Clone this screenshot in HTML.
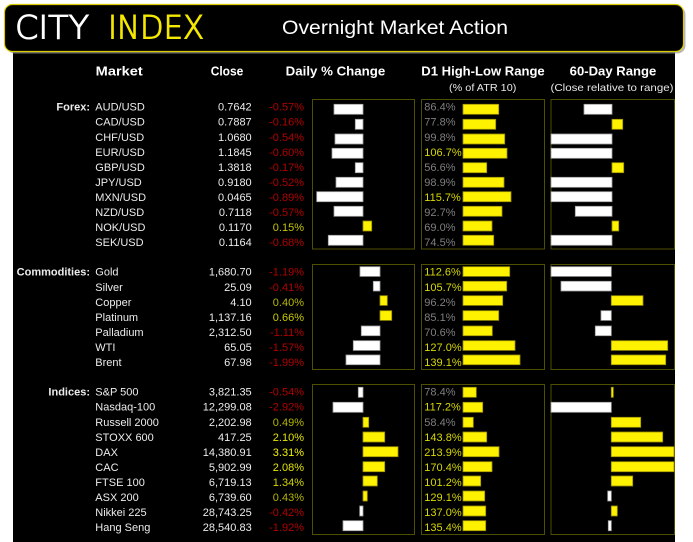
<!DOCTYPE html>
<html><head><meta charset="utf-8"><style>
html,body{margin:0;padding:0;background:#fff;}
svg{display:block;}
text{font-family:"Liberation Sans",sans-serif;}
.logo{font-family:"DejaVu Sans ExtraLight","DejaVu Sans","Liberation Sans",sans-serif;font-weight:200;stroke-width:1.1px;}
.t{font-size:11px;fill:#ececec;}
.e{text-anchor:end;}
.b{font-weight:bold;}
.h{font-size:12.5px;font-weight:bold;fill:#fff;text-anchor:middle;}
.s{font-size:10.5px;fill:#e8e8e8;text-anchor:middle;}
.R{fill:#b00000;}
.g{fill:#7f7f7f;}
.y{fill:#d8d800;}
.bx{fill:none;stroke:#4f4f00;stroke-width:1;}
.w{fill:#fff;stroke:#a0a0a0;stroke-width:0.8;}
.k{fill:#fff200;stroke:#9a9000;stroke-width:0.8;}
</style></head><body>
<svg width="693" height="542" viewBox="0 0 693 542" xmlns="http://www.w3.org/2000/svg">
<rect x="0" y="0" width="693" height="542" fill="#fff"/>
<rect x="13" y="48" width="662" height="494" fill="#000"/>
<!-- header -->
<rect x="6.5" y="6.5" width="679" height="47" rx="8" fill="#9a9a9a" opacity="0.7"/>
<rect x="4.5" y="4.5" width="679" height="47" rx="8" fill="#000" stroke="#d8cc00" stroke-width="1.2"/>
<text class="logo" x="15" y="38.3" font-size="32" fill="#fff" stroke="#fff" textLength="74" lengthAdjust="spacingAndGlyphs">CITY</text>
<text class="logo" x="108" y="38.3" font-size="32" fill="#f5e800" stroke="#f5e800" textLength="96" lengthAdjust="spacingAndGlyphs">INDEX</text>
<text x="282" y="34" font-size="19.5" fill="#fff" textLength="226" lengthAdjust="spacingAndGlyphs">Overnight Market Action</text>
<!-- column headers -->
<text class="h" x="119.2" y="75.7" textLength="47" lengthAdjust="spacingAndGlyphs">Market</text>
<text class="h" x="227" y="75.7" textLength="32.6" lengthAdjust="spacingAndGlyphs">Close</text>
<text class="h" x="335.5" y="75.7" textLength="99.6" lengthAdjust="spacingAndGlyphs">Daily % Change</text>
<text class="h" x="483" y="75.7" textLength="123.4" lengthAdjust="spacingAndGlyphs">D1 High-Low Range</text>
<text class="h" x="613" y="75.7" textLength="86.6" lengthAdjust="spacingAndGlyphs">60-Day Range</text>
<text class="s" x="482.7" y="91" textLength="67.3" lengthAdjust="spacingAndGlyphs">(% of ATR 10)</text>
<text class="s" x="612" y="91" textLength="123" lengthAdjust="spacingAndGlyphs">(Close relative to range)</text>

<!-- boxes -->
<rect class="bx" x="312.5" y="99.5" width="102" height="149.5"/>
<rect class="bx" x="421.5" y="99.5" width="123" height="149.5"/>
<rect class="bx" x="551" y="99.5" width="123.5" height="149.5"/>
<rect class="bx" x="312.5" y="264.5" width="102" height="105"/>
<rect class="bx" x="421.5" y="264.5" width="123" height="105"/>
<rect class="bx" x="551" y="264.5" width="123.5" height="105"/>
<rect class="bx" x="312.5" y="384.5" width="102" height="150"/>
<rect class="bx" x="421.5" y="384.5" width="123" height="150"/>
<rect class="bx" x="551" y="384.5" width="123.5" height="150"/>

<!-- section labels -->
<text class="t b e" x="90" y="110.7">Forex:</text>
<text class="t b e" x="90" y="275.7">Commodities:</text>
<text class="t b e" x="90" y="395.7">Indices:</text>

<!-- FOREX text -->
<g class="t">
<text x="95.3" y="110.7">AUD/USD</text>
<text x="95.3" y="125.7">CAD/USD</text>
<text x="95.3" y="140.8">CHF/USD</text>
<text x="95.3" y="155.8">EUR/USD</text>
<text x="95.3" y="170.8">GBP/USD</text>
<text x="95.3" y="185.9">JPY/USD</text>
<text x="95.3" y="200.9">MXN/USD</text>
<text x="95.3" y="215.9">NZD/USD</text>
<text x="95.3" y="230.9">NOK/USD</text>
<text x="95.3" y="246">SEK/USD</text>
</g>
<g class="t e">
<text x="251.7" y="110.7">0.7642</text>
<text x="251.7" y="125.7">0.7887</text>
<text x="251.7" y="140.8">1.0680</text>
<text x="251.7" y="155.8">1.1845</text>
<text x="251.7" y="170.8">1.3818</text>
<text x="251.7" y="185.9">0.9180</text>
<text x="251.7" y="200.9">0.0465</text>
<text x="251.7" y="215.9">0.7118</text>
<text x="251.7" y="230.9">0.1170</text>
<text x="251.7" y="246">0.1164</text>
</g>
<g class="t e">
<text class="R" x="304" y="110.7">-0.57%</text>
<text class="R" x="304" y="125.7">-0.16%</text>
<text class="R" x="304" y="140.8">-0.54%</text>
<text class="R" x="304" y="155.8">-0.60%</text>
<text class="R" x="304" y="170.8">-0.17%</text>
<text class="R" x="304" y="185.9">-0.52%</text>
<text class="R" x="304" y="200.9">-0.89%</text>
<text class="R" x="304" y="215.9">-0.57%</text>
<text x="304" y="230.9" fill="#c4c400">0.15%</text>
<text class="R" x="304" y="246">-0.68%</text>
</g>
<g class="t">
<text class="g" x="424.3" y="110.7">86.4%</text>
<text class="g" x="424.3" y="125.7">77.8%</text>
<text class="g" x="424.3" y="140.8">99.8%</text>
<text class="y" x="424.3" y="155.8">106.7%</text>
<text class="g" x="424.3" y="170.8">56.6%</text>
<text class="g" x="424.3" y="185.9">98.9%</text>
<text class="y" x="424.3" y="200.9">115.7%</text>
<text class="g" x="424.3" y="215.9">92.7%</text>
<text class="g" x="424.3" y="230.9">69.0%</text>
<text class="g" x="424.3" y="246">74.5%</text>
</g>
<!-- forex daily bars -->
<rect class="w" x="334" y="104.3" width="29" height="10"/>
<rect class="w" x="355.3" y="119.3" width="7.7" height="10"/>
<rect class="w" x="335" y="134" width="28" height="10"/>
<rect class="w" x="332" y="148.3" width="31" height="10"/>
<rect class="w" x="355.3" y="162.7" width="7.7" height="10"/>
<rect class="w" x="336" y="177.3" width="27" height="10"/>
<rect class="w" x="316.7" y="191.7" width="46.3" height="10"/>
<rect class="w" x="334" y="206.3" width="29" height="10"/>
<rect class="k" x="363" y="221" width="8.7" height="10"/>
<rect class="w" x="328.3" y="235.3" width="34.7" height="10"/>
<!-- forex D1 bars -->
<rect class="k" x="463" y="104.3" width="35.7" height="10"/>
<rect class="k" x="463" y="119.3" width="32.7" height="10"/>
<rect class="k" x="463" y="134" width="41.7" height="10"/>
<rect class="k" x="463" y="148.3" width="44" height="10"/>
<rect class="k" x="463" y="162.7" width="23.7" height="10"/>
<rect class="k" x="463" y="177.3" width="41" height="10"/>
<rect class="k" x="463" y="191.7" width="48" height="10"/>
<rect class="k" x="463" y="206.3" width="39" height="10"/>
<rect class="k" x="463" y="221" width="29" height="10"/>
<rect class="k" x="463" y="235.3" width="30.7" height="10"/>
<!-- forex 60d bars -->
<rect class="w" x="584" y="104.3" width="28" height="10"/>
<rect class="k" x="612" y="119.3" width="10.7" height="10"/>
<rect class="w" x="551" y="134" width="61" height="10"/>
<rect class="w" x="551" y="148.3" width="61" height="10"/>
<rect class="k" x="612" y="162.7" width="11.7" height="10"/>
<rect class="w" x="551" y="177.3" width="61" height="10"/>
<rect class="w" x="551" y="191.7" width="61" height="10"/>
<rect class="w" x="575.3" y="206.3" width="36.7" height="10"/>
<rect class="k" x="612" y="221" width="6.7" height="10"/>
<rect class="w" x="551" y="235.3" width="61" height="10"/>

<!-- COMMODITIES text -->
<g class="t">
<text x="95.3" y="275.7">Gold</text>
<text x="95.3" y="290.8">Silver</text>
<text x="95.3" y="305.8">Copper</text>
<text x="95.3" y="320.9">Platinum</text>
<text x="95.3" y="335.9">Palladium</text>
<text x="95.3" y="350.9">WTI</text>
<text x="95.3" y="366">Brent</text>
</g>
<g class="t e">
<text x="251.7" y="275.7">1,680.70</text>
<text x="251.7" y="290.8">25.09</text>
<text x="251.7" y="305.8">4.10</text>
<text x="251.7" y="320.9">1,137.16</text>
<text x="251.7" y="335.9">2,312.50</text>
<text x="251.7" y="350.9">65.05</text>
<text x="251.7" y="366">67.98</text>
</g>
<g class="t e">
<text class="R" x="304" y="275.7">-1.19%</text>
<text class="R" x="304" y="290.8">-0.41%</text>
<text x="304" y="305.8" fill="#b8b800">0.40%</text>
<text x="304" y="320.9" fill="#c8c800">0.66%</text>
<text class="R" x="304" y="335.9">-1.11%</text>
<text class="R" x="304" y="350.9">-1.57%</text>
<text class="R" x="304" y="366">-1.99%</text>
</g>
<g class="t">
<text class="y" x="424.3" y="275.7">112.6%</text>
<text class="y" x="424.3" y="290.8">105.7%</text>
<text class="g" x="424.3" y="305.8">96.2%</text>
<text class="g" x="424.3" y="320.9">85.1%</text>
<text class="g" x="424.3" y="335.9">70.6%</text>
<text class="y" x="424.3" y="350.9">127.0%</text>
<text class="y" x="424.3" y="366">139.1%</text>
</g>
<rect class="w" x="360" y="266.7" width="20" height="9.7"/>
<rect class="w" x="373.3" y="281.3" width="6.7" height="9.7"/>
<rect class="k" x="380" y="295.7" width="7.3" height="9.7"/>
<rect class="k" x="380" y="310.7" width="11.7" height="9.7"/>
<rect class="w" x="361.3" y="326" width="18.7" height="9.7"/>
<rect class="w" x="353.3" y="340.7" width="26.7" height="9.7"/>
<rect class="w" x="346" y="355" width="34" height="9.7"/>

<rect class="k" x="463" y="266.7" width="46.7" height="9.7"/>
<rect class="k" x="463" y="281.3" width="43.7" height="9.7"/>
<rect class="k" x="463" y="295.7" width="39.7" height="9.7"/>
<rect class="k" x="463" y="310.7" width="35.7" height="9.7"/>
<rect class="k" x="463" y="326" width="29.3" height="9.7"/>
<rect class="k" x="463" y="340.7" width="52" height="9.7"/>
<rect class="k" x="463" y="355" width="57" height="9.7"/>

<rect class="w" x="551" y="266.7" width="60.3" height="9.7"/>
<rect class="w" x="561" y="281.3" width="50.3" height="9.7"/>
<rect class="k" x="611.3" y="295.7" width="31.7" height="9.7"/>
<rect class="w" x="601" y="310.7" width="10.3" height="9.7"/>
<rect class="w" x="595.3" y="326" width="16" height="9.7"/>
<rect class="k" x="611.3" y="340.7" width="56.4" height="9.7"/>
<rect class="k" x="611.3" y="355" width="54.4" height="9.7"/>

<!-- INDICES text -->
<g class="t">
<text x="95.3" y="395.7">S&amp;P 500</text>
<text x="95.3" y="410.7">Nasdaq-100</text>
<text x="95.3" y="425.8">Russell 2000</text>
<text x="95.3" y="440.8">STOXX 600</text>
<text x="95.3" y="455.8">DAX</text>
<text x="95.3" y="470.9">CAC</text>
<text x="95.3" y="485.9">FTSE 100</text>
<text x="95.3" y="500.9">ASX 200</text>
<text x="95.3" y="515.9">Nikkei 225</text>
<text x="95.3" y="531">Hang Seng</text>
</g>
<g class="t e">
<text x="251.7" y="395.7">3,821.35</text>
<text x="251.7" y="410.7">12,299.08</text>
<text x="251.7" y="425.8">2,202.98</text>
<text x="251.7" y="440.8">417.25</text>
<text x="251.7" y="455.8">14,380.91</text>
<text x="251.7" y="470.9">5,902.99</text>
<text x="251.7" y="485.9">6,719.13</text>
<text x="251.7" y="500.9">6,739.60</text>
<text x="251.7" y="515.9">28,743.25</text>
<text x="251.7" y="531">28,540.83</text>
</g>
<g class="t e">
<text class="R" x="304" y="395.7">-0.54%</text>
<text class="R" x="304" y="410.7">-2.92%</text>
<text x="304" y="425.8" fill="#b4b400">0.49%</text>
<text x="304" y="440.8" fill="#e2e200">2.10%</text>
<text x="304" y="455.8" fill="#f2f200">3.31%</text>
<text x="304" y="470.9" fill="#e2e200">2.08%</text>
<text x="304" y="485.9" fill="#d4d400">1.34%</text>
<text x="304" y="500.9" fill="#b4b400">0.43%</text>
<text class="R" x="304" y="515.9">-0.42%</text>
<text class="R" x="304" y="531">-1.92%</text>
</g>
<g class="t">
<text class="g" x="424.3" y="395.7">78.4%</text>
<text class="y" x="424.3" y="410.7">117.2%</text>
<text class="g" x="424.3" y="425.8">58.4%</text>
<text class="y" x="424.3" y="440.8">143.8%</text>
<text class="y" x="424.3" y="455.8">213.9%</text>
<text class="y" x="424.3" y="470.9">170.4%</text>
<text class="y" x="424.3" y="485.9">101.2%</text>
<text class="y" x="424.3" y="500.9">129.1%</text>
<text class="y" x="424.3" y="515.9">137.0%</text>
<text class="y" x="424.3" y="531">135.4%</text>
</g>
<rect class="w" x="358.3" y="387.3" width="4.7" height="10"/>
<rect class="w" x="333" y="402.3" width="30" height="10"/>
<rect class="k" x="363" y="417.3" width="5.7" height="10"/>
<rect class="k" x="363" y="432" width="21.7" height="10"/>
<rect class="k" x="363" y="446.7" width="35" height="10"/>
<rect class="k" x="363" y="461.7" width="21.7" height="10"/>
<rect class="k" x="363" y="476" width="14.3" height="10"/>
<rect class="k" x="363" y="491" width="4.3" height="10"/>
<rect class="w" x="359.7" y="506" width="3.3" height="10"/>
<rect class="w" x="343" y="520.7" width="20" height="10"/>

<rect class="k" x="463" y="387.3" width="13.3" height="10"/>
<rect class="k" x="463" y="402.3" width="19.7" height="10"/>
<rect class="k" x="463" y="417.3" width="10.3" height="10"/>
<rect class="k" x="463" y="432" width="23.7" height="10"/>
<rect class="k" x="463" y="446.7" width="36" height="10"/>
<rect class="k" x="463" y="461.7" width="29" height="10"/>
<rect class="k" x="463" y="476" width="17.7" height="10"/>
<rect class="k" x="463" y="491" width="21.7" height="10"/>
<rect class="k" x="463" y="506" width="22.7" height="10"/>
<rect class="k" x="463" y="520.7" width="22.7" height="10"/>

<rect class="k" x="611.3" y="387.3" width="2" height="10"/>
<rect class="w" x="551" y="402.3" width="60.3" height="10"/>
<rect class="k" x="611.3" y="417.3" width="29.4" height="10"/>
<rect class="k" x="611.3" y="432" width="51.4" height="10"/>
<rect class="k" x="611.3" y="446.7" width="62.7" height="10"/>
<rect class="k" x="611.3" y="461.7" width="62.7" height="10"/>
<rect class="k" x="611.3" y="476" width="21.4" height="10"/>
<rect class="w" x="607.7" y="491" width="3.6" height="10"/>
<rect class="k" x="611.3" y="506" width="6" height="10"/>
<rect class="w" x="608.3" y="520.7" width="3" height="10"/>
</svg>
</body></html>
